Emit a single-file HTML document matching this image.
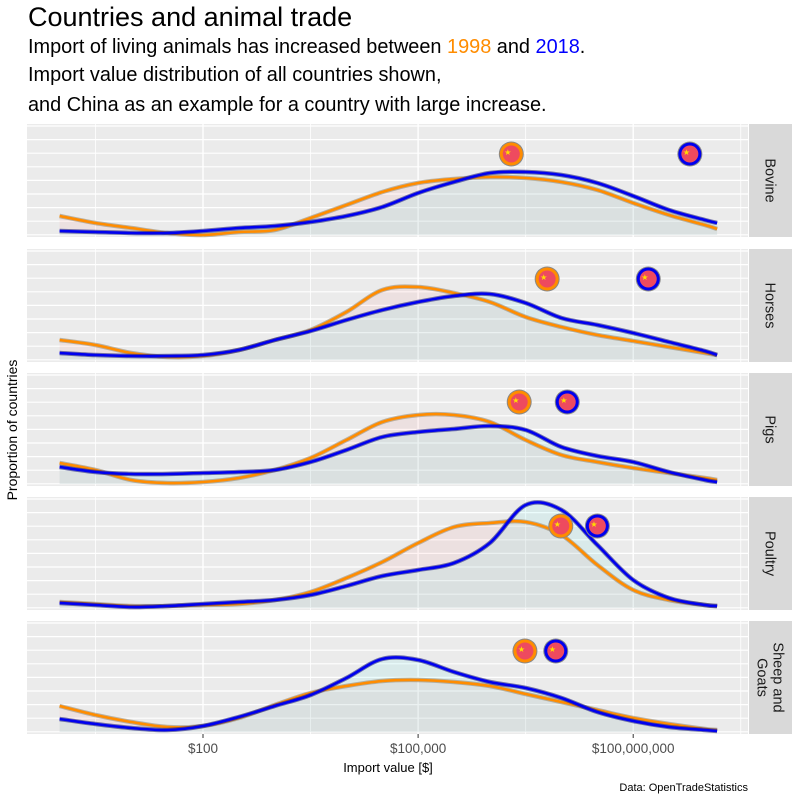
<!DOCTYPE html>
<html><head><meta charset="utf-8"><style>
body{margin:0;background:#fff;}
svg{display:block;font-family:"Liberation Sans",sans-serif;}
</style></head><body>
<svg id="c" width="800" height="800" viewBox="0 0 800 800">
<text x="28" y="26" font-size="27" fill="#000">Countries and animal trade</text>
<text x="28" y="53" font-size="19.9" fill="#000">Import of living animals has increased between <tspan fill="#ff8c00">1998</tspan> and <tspan fill="#0000ff">2018</tspan>.</text>
<text x="28" y="81" font-size="19.9" fill="#000">Import value distribution of all countries shown,</text>
<text x="28" y="111" font-size="19.9" fill="#000">and China as an example for a country with large increase.</text>
<text transform="translate(17,430) rotate(-90)" text-anchor="middle" font-size="14" fill="#000">Proportion of countries</text>
<text x="388" y="772" text-anchor="middle" font-size="13" fill="#000">Import value [$]</text>
<text x="748" y="791" text-anchor="end" font-size="11" fill="#000">Data: OpenTradeStatistics</text>
<g id="plot"></g>
</svg>
<script>
const panels = ["Bovine","Horses","Pigs","Poultry","Sheep and Goats"];
const xGrid = [0,0.5,1,1.5,2,2.5,3,3.5,4,4.5,5,5.5,6,6.5,7,7.5,8,8.5,9,9.17];
const d1998Bovine = [19,12,7,2,0,3,5,17,30,43,52,56,58,57,53,45,32,20,10,6];
const d2018Bovine = [4,3,2,2,4,7,9,13,19,28,42,53,62,63,60,52,39,25,15,12];
const d1998Horses = [20,15,7,3,4,10,20,30,48,70,73,67,58,43,33,25,19,13,7,5];
const d2018Horses = [7,5,4,4,5,10,20,29,40,50,58,64,66,57,42,35,27,18,9,5];
const d1998Pigs = [21,14,4,1,2,6,14,26,44,62,69,69,62,44,29,22,16,11,6,4];
const d2018Pigs = [17,12,10,10,11,12,14,22,34,47,52,55,58,54,37,28,22,12,4,2];
const d1998Poultry = [6,4,2,2,3,4,8,16,30,46,65,81,85,86,73,43,18,8,3,2];
const d2018Poultry = [5,3,1,2,4,6,8,13,22,32,38,45,65,103,98,63,28,10,3,2];
const d1998Sheep = [26,17,10,5,6,14,27,39,46,51,52,50,46,38,30,22,14,8,3,2];
const d2018Sheep = [13,8,4,2,6,15,26,37,54,73,72,60,50,44,34,20,11,5,2,1];
const d1998 = [d1998Bovine,d1998Horses,d1998Pigs,d1998Poultry,d1998Sheep];
const d2018 = [d2018Bovine,d2018Horses,d2018Pigs,d2018Poultry,d2018Sheep];
const china1998 = [6.30,6.80,6.41,6.99,6.49];
const china2018 = [8.79,8.21,7.08,7.50,6.92];
const chinaY = [81,81,82,82,81];

const NS="http://www.w3.org/2000/svg";
const plot=document.getElementById('plot');
const L=27,R=748,SX=749,SW=43;
const tops=[124,249,373,497,621],PH=113;
function xs(v){return 203+(v-2)*71.7;}
function mk(tag,attrs,parent){const e=document.createElementNS(NS,tag);for(const k in attrs)e.setAttribute(k,attrs[k]);(parent||plot).appendChild(e);return e;}
function smooth(pts){let d="M"+pts[0][0]+","+pts[0][1];for(let i=0;i<pts.length-1;i++){const p0=pts[i-1]||pts[i],p1=pts[i],p2=pts[i+1],p3=pts[i+2]||p2;
const c1=[p1[0]+(p2[0]-p0[0])/6,p1[1]+(p2[1]-p0[1])/6],c2=[p2[0]-(p3[0]-p1[0])/6,p2[1]-(p3[1]-p1[1])/6];
d+=" C"+c1[0].toFixed(1)+","+c1[1].toFixed(1)+" "+c2[0].toFixed(1)+","+c2[1].toFixed(1)+" "+p2[0].toFixed(1)+","+p2[1].toFixed(1);}return d;}
function flag(cx,cy,col,name){
 const g=mk('g',{});
 
 
 mk('circle',{cx:cx,cy:cy,r:12.5,fill:'#888'},g);
 mk('circle',{cx:cx,cy:cy,r:11.5,fill:col},g);
 mk('circle',{cx:cx,cy:cy,r:8.5,fill:'#ee4a5f'},g);
 mk('text',{x:cx-7,y:cy+1,'font-size':8,fill:'#ffde00'},g).textContent='★';
}
panels.forEach((p,i)=>{
 const t=tops[i],b=t+PH,base=t+111;
 const bg=mk('rect',{x:L,y:t,width:R-L,height:PH,fill:'#ebebeb'});
 
 
 for(let y=t+2;y<b;y+=13.6) mk('line',{x1:L,x2:R,y1:y,y2:y,stroke:'#fff','stroke-width':1.2});
 for(let v=-1;v<=10;v+=1.5){const x=xs(v);if(x>L&&x<R)mk('line',{x1:x,x2:x,y1:t,y2:b,stroke:'#fff','stroke-width':(Math.abs((v-2)%3)<0.01)?1.4:0.8});}
 const sets=[[d1998[i],'rgba(255,90,90,0.07)','#ff8c00','density-1998'],[d2018[i],'rgba(90,230,230,0.12)','#0000ee','density-2018']];
 sets.forEach(s=>{
  const pts=xGrid.map((v,k)=>[xs(v),base-s[0][k]]);
  const dl=smooth(pts);
  const a=mk('path',{d:dl+` L${pts[pts.length-1][0]},${base} L${pts[0][0]},${base} Z`,fill:s[1]});
  
  
 });
 sets.forEach(s=>{
  const pts=xGrid.map((v,k)=>[xs(v),base-s[0][k]]);
  const dl=smooth(pts);
  mk('path',{d:dl,fill:'none',stroke:s[2]=='#ff8c00'?'#9a8a70':'#202080','stroke-width':4.5,'stroke-opacity':0.6});
  const l=mk('path',{d:dl,fill:'none',stroke:s[2],'stroke-width':2.6});
  
  
 });
 flag(xs(china1998[i]),base-chinaY[i],'#ff8c00','china-1998-flag');
 flag(xs(china2018[i]),base-chinaY[i],'#0000ee','china-2018-flag');
 const st=mk('rect',{x:SX,y:t,width:SW,height:PH,fill:'#d9d9d9'});
 
 
 const cx=SX+SW/2,cy=t+PH/2;
 const tx=mk('text',{transform:`translate(${cx},${cy}) rotate(90)`,'text-anchor':'middle','font-size':14.5,fill:'#1a1a1a'});
 
 
 if(p==="Sheep and Goats"){mk('tspan',{x:0,y:-3},tx).textContent='Sheep and';mk('tspan',{x:0,y:13},tx).textContent='Goats';}
 else{mk('tspan',{x:0,y:5},tx).textContent=p;}
});
const tickVals=[2,5,8];
const tickLabels=["$100","$100,000","$100,000,000"];
tickVals.forEach((v,k)=>{
 mk('line',{x1:xs(v),x2:xs(v),y1:734,y2:738,stroke:'#333'});
 const tl=mk('text',{x:xs(v),y:753,'text-anchor':'middle','font-size':13.5,fill:'#4d4d4d'});
 
 
 tl.textContent=tickLabels[k];
});
</script>
</body></html>
